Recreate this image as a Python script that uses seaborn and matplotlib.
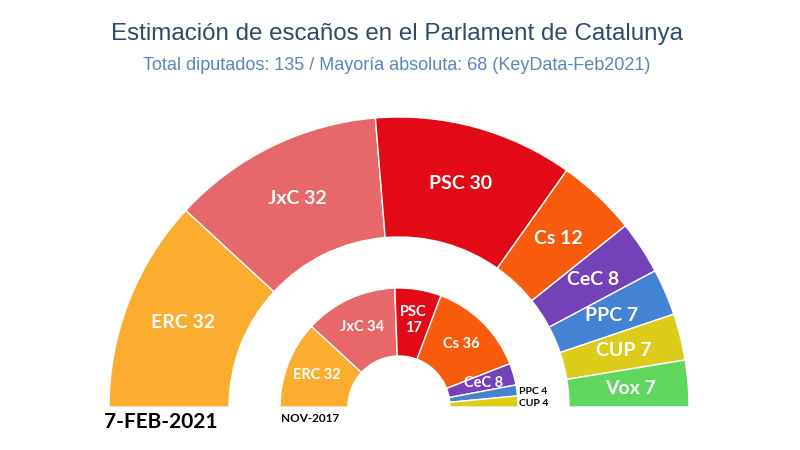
import numpy as np
import matplotlib.pyplot as plt
import seaborn as sns

sns.set_theme(style="white")
plt.rcParams["font.family"] = ["Lato", "DejaVu Sans"]

# seats, Feb 2021 estimate (outer ring)
parties_2021 = ["ERC", "JxC", "PSC", "Cs", "CeC", "PPC", "CUP", "Vox"]
seats_2021 = [32, 32, 30, 12, 8, 7, 7, 7]

# seats, Nov 2017 (inner ring)
parties_2017 = ["ERC", "JxC", "PSC", "Cs", "CeC", "PPC", "CUP"]
seats_2017 = [32, 34, 17, 36, 8, 4, 4]

party_colors = {
    "ERC": "#FBAD2F", "JxC": "#E7686A", "PSC": "#E20A17", "Cs": "#F95B0C",
    "CeC": "#7541B9", "PPC": "#4482D4", "CUP": "#DDCB1A", "Vox": "#5FD75F",
}

fig = plt.figure(figsize=(8, 4.5), dpi=100)
ax = fig.add_axes([0, 0, 1, 1])

cx, cy = 399, 43


def half_donut(parties, seats, radius, width):
    total = sum(seats)
    cols = [party_colors[p] for p in parties] + ["white"]
    wedges, _ = ax.pie(seats + [total], radius=radius, center=(cx, cy),
                       startangle=180, counterclock=False, colors=cols,
                       wedgeprops=dict(width=width, edgecolor="white", linewidth=1))
    wedges[-1].set_visible(False)
    cum = np.cumsum([0] + seats[:-1])
    mids = 180 - (cum + np.array(seats) / 2) / total * 180
    return mids


mids_out = half_donut(parties_2021, seats_2021, 290, 120)
mids_in = half_donut(parties_2017, seats_2017, 119, 68)

for p, s, a in zip(parties_2021, seats_2021, mids_out):
    r = 232
    ax.text(cx + r * np.cos(np.radians(a)), cy + r * np.sin(np.radians(a)),
            f"{p} {s}", ha="center", va="center", color="white",
            fontsize=14, fontweight="bold")

for p, s, a in zip(parties_2017, seats_2017, mids_in):
    if p in ("PPC", "CUP"):
        continue
    r = 88
    txt = f"{p}\n{s}" if p == "PSC" else f"{p} {s}"
    ax.text(cx + r * np.cos(np.radians(a)), cy + r * np.sin(np.radians(a)),
            txt, ha="center", va="center", color="white",
            fontsize=10.5, fontweight="bold", linespacing=1.15)

ax.text(519, 59, "PPC 4", ha="left", va="center", color="black", fontsize=7.5, fontweight="bold")
ax.text(519, 47, "CUP 4", ha="left", va="center", color="black", fontsize=7.5, fontweight="bold")

ax.text(161, 28, "7-FEB-2021", ha="center", va="center", color="black", fontsize=15, fontweight="bold")
ax.text(310, 32, "NOV-2017", ha="center", va="center", color="black", fontsize=8.5, fontweight="bold")

ax.text(397, 416, "Estimación de escaños en el Parlament de Catalunya", ha="center", va="center",
        color="#2E4A6A", fontsize=17.4, family=["Liberation Sans", "DejaVu Sans"])
ax.text(397, 384, "Total diputados: 135 / Mayoría absoluta: 68 (KeyData-Feb2021)", ha="center",
        va="center", color="#5A86B8", fontsize=13, family=["Liberation Sans", "DejaVu Sans"])

ax.set_xlim(0, 800)
ax.set_ylim(0, 450)
ax.set_aspect("equal")
ax.axis("off")

fig.savefig("out.png", dpi=100, facecolor="white")
